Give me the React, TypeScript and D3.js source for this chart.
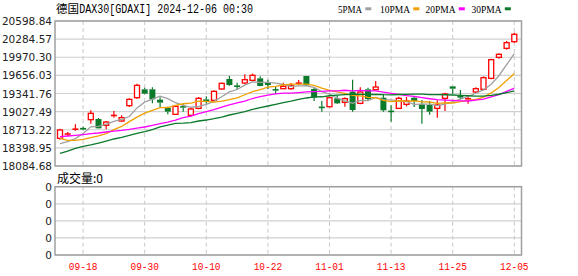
import React from "react";
import * as d3 from "d3";

const title = "德国DAX30[GDAXI] 2024-12-06 00:30";
const legendNames = ["5PMA", "10PMA", "20PMA", "30PMA"];
const legendColors = ["#a0a0a0", "#f0a000", "#ff00ff", "#0b7a2b"];

const dates = [
  "09-13","09-16","09-17","09-18","09-19","09-20","09-23","09-24","09-25","09-26",
  "09-27","09-30","10-01","10-02","10-03","10-04","10-07","10-08","10-09","10-10",
  "10-11","10-14","10-15","10-16","10-17","10-18","10-21","10-22","10-23","10-24",
  "10-25","10-28","10-29","10-30","10-31","11-01","11-04","11-05","11-06","11-07",
  "11-08","11-11","11-12","11-13","11-14","11-15","11-18","11-19","11-20","11-21",
  "11-22","11-25","11-26","11-27","11-28","11-29","12-02","12-03","12-04","12-05",
];

const openV = [
  18564,18637,18703,18740,18888,18899,18790,18965,18865,19131,
  19269,19414,19414,19235,19096,18980,19119,18963,19084,19240,
  19223,19420,19593,19477,19524,19570,19605,19524,19414,19425,
  19425,19526,19645,19420,19110,19113,19258,19189,19373,19171,
  19414,19408,19269,19040,19084,19154,19269,19154,19142,19084,
  19258,19466,19293,19252,19368,19414,19604,19969,20125,20240,
];
const highV = [
  18732,18674,18807,18766,19050,18917,18865,19038,18963,19258,
  19512,19443,19449,19275,19113,19136,19154,19096,19281,19293,
  19397,19530,19645,19530,19674,19686,19639,19582,19466,19530,
  19524,19575,19645,19443,19212,19287,19310,19275,19582,19449,
  19443,19558,19327,19136,19287,19281,19281,19229,19212,19223,
  19356,19466,19402,19281,19449,19639,19946,20038,20252,20397,
];
const lowV = [
  18541,18599,18691,18703,18819,18732,18720,18922,18853,19108,
  19252,19327,19171,19096,18980,18969,19027,18940,19067,19165,
  19212,19408,19477,19402,19500,19553,19466,19414,19339,19425,
  19408,19483,19472,19212,19027,19102,19160,19113,19027,19154,
  19212,19397,19027,18853,19073,19119,19108,18819,18975,18923,
  19038,19339,19240,19165,19350,19397,19587,19946,20102,20223,
];
const closeV = [
  18709,18648,18732,18733,18998,18738,18847,18969,18923,19240,
  19483,19339,19240,19183,19027,19119,19113,19073,19258,19200,
  19379,19518,19489,19471,19581,19657,19472,19489,19408,19466,
  19483,19530,19483,19269,19108,19269,19171,19252,19056,19368,
  19246,19454,19050,19038,19258,19212,19212,19073,19027,19142,
  19333,19425,19290,19258,19425,19616,19928,20021,20223,20368,
];

const ma5 = [
  18472,18506,18560,18650,18764,18770,18810,18857,18895,18943,
  19092,19191,19245,19297,19254,19182,19136,19103,19118,19153,
  19205,19286,19369,19411,19488,19543,19534,19534,19521,19498,
  19464,19475,19474,19446,19375,19332,19260,19214,19171,19223,
  19219,19275,19235,19231,19209,19202,19154,19159,19156,19133,
  19157,19200,19243,19290,19346,19403,19503,19650,19843,20031,
];
const ma10 = [
  18564,18530,18530,18547,18576,18605,18645,18715,18770,18854,
  18931,19000,19051,19096,19099,19137,19164,19174,19208,19204,
  19193,19211,19236,19265,19320,19374,19410,19451,19466,19493,
  19503,19505,19504,19484,19437,19398,19368,19344,19309,19299,
  19275,19268,19224,19201,19216,19211,19215,19197,19194,19171,
  19180,19177,19201,19223,19240,19280,19352,19447,19566,19689,
];
const ma20 = [
  18593,18605,18616,18628,18645,18657,18674,18691,18703,18720,
  18743,18761,18790,18819,18847,18882,18922,18951,18992,19029,
  19062,19106,19143,19180,19210,19255,19287,19313,19337,19348,
  19348,19358,19370,19374,19378,19386,19389,19398,19388,19396,
  19389,19386,19364,19343,19326,19304,19291,19270,19251,19235,
  19228,19222,19213,19212,19228,19245,19283,19322,19380,19430,
];
const ma30 = [
  18304,18344,18391,18426,18449,18483,18518,18553,18582,18616,
  18651,18680,18714,18761,18795,18825,18828,18836,18865,18882,
  18905,18934,18969,18998,19027,19067,19096,19125,19154,19183,
  19209,19239,19264,19282,19285,19303,19314,19323,19328,19332,
  19324,19328,19321,19317,19324,19327,19331,19331,19323,19321,
  19320,19316,19310,19303,19297,19296,19311,19329,19356,19386,
];

const yTicks = [20598.84, 20284.57, 19970.3, 19656.03, 19341.76, 19027.49, 18713.22, 18398.95, 18084.68];
const xTickLabels = ["09-18", "09-30", "10-10", "10-22", "11-01", "11-13", "11-25", "12-05"];
const volumeLabel = "成交量:0";
const volTicks = [0, 0, 0, 0, 0];

// layout
const W = 578, H = 276;
const plotL = 55, plotR = 521.5;
const mainT = 21, mainB = 166;
const volT = 186.7, volB = 255;
const RED = "#ff0000";
const GREEN = "#0b7a2b";
const GRID = "#d0d0d0";
const BORDER = "#a0a0a0";

export default function App() {
  const x = d3.scalePoint<string>().domain(dates).range([60, 514.3]);
  const y = d3.scaleLinear().domain([18084.68, 20598.84]).range([mainB, mainT]);
  const yv = d3.scaleLinear().domain([0, volTicks.length - 1]).range([volB, volT]);

  const line = d3
    .line<number>()
    .x((_, i) => x(dates[i]) as number)
    .y((d) => y(d));

  const maSeries = [ma5, ma10, ma20, ma30];
  const bw = 5;

  const legendX = [338, 380, 425.5, 471.5];

  return (
    <svg
      width={W}
      height={H}
      style={{ position: "absolute", left: 0, top: 0, background: "#fff" }}
    >
      <rect x={0} y={0} width={W} height={H} fill="#fff" />
      {/* title */}
      <text x={56} y={12.5} fontFamily="'Noto Sans CJK SC'" fontSize={11.5} fill="#000">
        {title.slice(0, 2)}
      </text>
      <text
        x={79.3}
        y={12.5}
        fontFamily="'Liberation Mono'"
        fontSize={12}
        textLength={173.7}
        lengthAdjust="spacingAndGlyphs"
        fill="#000"
      >
        {title.slice(2)}
      </text>
      {/* legend */}
      {legendNames.map((n, i) => {
        const tw = n.length * 6;
        return (
          <g key={n}>
            <text
              x={legendX[i]}
              y={12.5}
              fontFamily="'Liberation Serif'"
              fontSize={11}
              textLength={tw}
              lengthAdjust="spacingAndGlyphs"
              fill="#000"
            >
              {n}
            </text>
            <rect x={legendX[i] + tw + 3.3} y={7.3} width={6} height={3} fill={legendColors[i]} />
          </g>
        );
      })}

      {/* main grid */}
      {yTicks.map((t, i) => (
        <line key={"hg" + i} x1={plotL} x2={plotR} y1={y(t)} y2={y(t)} stroke={GRID} strokeWidth={1.2} />
      ))}
      {xTickLabels.map((d) => (
        <line
          key={"vg" + d}
          x1={x(d)}
          x2={x(d)}
          y1={mainT}
          y2={mainB}
          stroke="#c8c8c8"
          strokeWidth={1}
          strokeDasharray="4,3"
        />
      ))}
      {yTicks.map((t, i) => (
        <text
          key={"yl" + i}
          x={52}
          y={y(t)}
          textAnchor="end"
          dominantBaseline="central"
          fontFamily="'DejaVu Sans'"
          fontSize={10.5}
          fill="#222"
        >
          {t.toFixed(2)}
        </text>
      ))}

      {/* candles */}
      {dates.map((d, i) => {
        const cx = x(d) as number;
        const o = openV[i], c = closeV[i], h = highV[i], l = lowV[i];
        const up = c >= o;
        const col = up ? RED : GREEN;
        const top = y(Math.max(o, c));
        const bot = y(Math.min(o, c));
        const bh = Math.max(bot - top, 1.2);
        return (
          <g key={"c" + i}>
            <line x1={cx} x2={cx} y1={y(h)} y2={top} stroke={col} strokeWidth={1.2} />
            <line x1={cx} x2={cx} y1={top + bh} y2={y(l)} stroke={col} strokeWidth={1.2} />
            {up && bh > 2 ? (
              <rect
                x={cx - bw / 2}
                y={top}
                width={bw}
                height={bh}
                fill="#fff"
                stroke={col}
                strokeWidth={1.3}
              />
            ) : (
              <rect
                x={cx - (bw + 1) / 2}
                y={bh > 2 ? top : top - 0.3}
                width={bw + 1}
                height={bh > 2 ? bh : 1.6}
                fill={col}
              />
            )}
          </g>
        );
      })}

      {/* MA lines */}
      {maSeries.map((s, k) => (
        <path key={"ma" + k} d={line(s) || ""} fill="none" stroke={legendColors[k]} strokeWidth={1.3} />
      ))}

      {/* main border */}
      <rect x={plotL} y={mainT} width={plotR - plotL} height={mainB - mainT} fill="none" stroke={BORDER} strokeWidth={1.5} />

      {/* volume panel */}
      <text x={57} y={182.5} fontFamily="'Noto Sans CJK SC'" fontSize={12} fill="#000">
        {volumeLabel}
      </text>
      {volTicks.map((t, i) => (
        <line key={"vh" + i} x1={plotL} x2={plotR} y1={yv(i)} y2={yv(i)} stroke={GRID} strokeWidth={1.2} />
      ))}
      {xTickLabels.map((d) => (
        <line
          key={"vv" + d}
          x1={x(d)}
          x2={x(d)}
          y1={volT}
          y2={volB}
          stroke="#c8c8c8"
          strokeWidth={1}
          strokeDasharray="4,3"
        />
      ))}
      {volTicks.map((t, i) => (
        <text
          key={"vl" + i}
          x={52}
          y={yv(i)}
          textAnchor="end"
          dominantBaseline="central"
          fontFamily="'DejaVu Sans'"
          fontSize={10.5}
          fill="#222"
        >
          {t}
        </text>
      ))}
      <rect x={plotL} y={volT} width={plotR - plotL} height={volB - volT} fill="none" stroke={BORDER} strokeWidth={1.5} />

      {/* x labels */}
      {xTickLabels.map((d) => (
        <text
          key={"xl" + d}
          x={x(d)}
          y={270}
          textAnchor="middle"
          fontFamily="'Liberation Mono'"
          fontSize={11}
          textLength={28.5}
          lengthAdjust="spacingAndGlyphs"
          fill={RED}
        >
          {d}
        </text>
      ))}
    </svg>
  );
}
